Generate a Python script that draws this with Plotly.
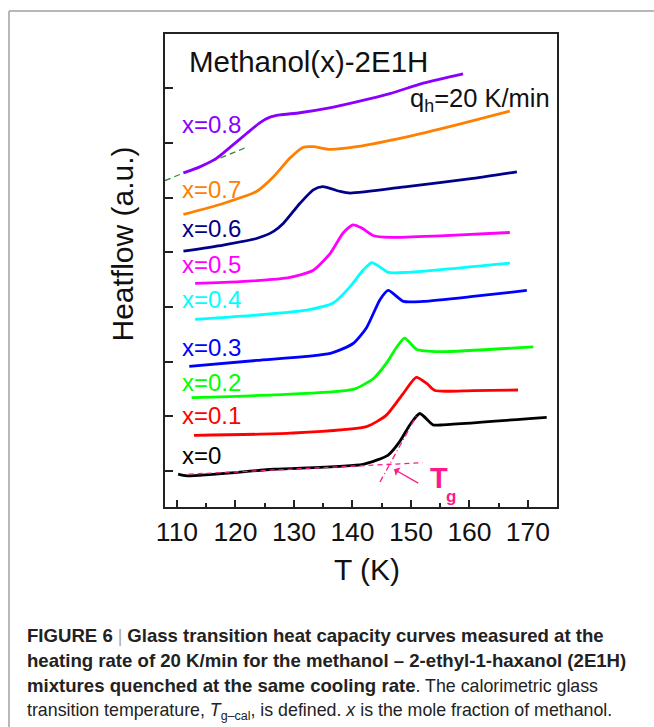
import plotly.graph_objects as go

# ---------------- data ----------------
T_08 = [111.1, 113.9, 116.8, 119.1, 121.9, 124.2, 125.9, 127.6, 131.0, 135.6, 140.7, 146.4, 152.1, 158.9]
H_08 = [5.45, 5.56, 5.72, 5.92, 6.17, 6.37, 6.47, 6.51, 6.55, 6.63, 6.75, 6.90, 7.09, 7.26]

T_07 = [111.1, 117.9, 123.6, 126.5, 129.3, 131.6, 133.3, 136.2, 140.7, 149.3, 157.8, 166.9]
H_07 = [4.69, 4.89, 5.11, 5.38, 5.72, 5.92, 5.93, 5.88, 5.93, 6.11, 6.33, 6.58]

T_06 = [111.1, 117.9, 123.6, 126.5, 128.2, 131.0, 133.3, 134.9, 137.9, 139.6, 149.3, 160.6, 168.1]
H_06 = [4.02, 4.13, 4.25, 4.38, 4.53, 4.89, 5.14, 5.20, 5.11, 5.08, 5.20, 5.35, 5.47]

T_05 = [113.1, 120.8, 129.3, 133.3, 136.2, 138.4, 140.1, 141.6, 143.6, 146.4, 155.0, 166.9]
H_05 = [3.43, 3.46, 3.54, 3.67, 3.98, 4.35, 4.50, 4.44, 4.30, 4.27, 4.30, 4.36]

T_04 = [113.1, 123.6, 132.2, 136.7, 139.6, 141.8, 143.3, 144.7, 146.1, 149.3, 166.9]
H_04 = [2.77, 2.85, 2.94, 3.07, 3.37, 3.67, 3.81, 3.73, 3.63, 3.63, 3.80]

T_03 = [112.1, 123.6, 136.2, 140.1, 142.4, 144.7, 146.1, 148.7, 152.1, 160.6, 169.8]
H_03 = [1.91, 2.02, 2.15, 2.33, 2.62, 3.13, 3.30, 3.10, 3.10, 3.19, 3.30]

T_02 = [112.5, 126.5, 140.1, 143.6, 145.8, 147.6, 148.9, 151.0, 155.0, 170.9]
H_02 = [1.34, 1.39, 1.49, 1.69, 1.97, 2.27, 2.43, 2.22, 2.18, 2.27]

T_01 = [112.9, 129.3, 142.4, 145.8, 148.7, 150.9, 152.7, 154.1, 160.6, 168.3]
H_01 = [0.65, 0.69, 0.81, 1.02, 1.42, 1.71, 1.60, 1.47, 1.47, 1.48]

T_00 = [110.2, 111.7, 126.5, 141.8, 146.1, 148.1, 149.8, 151.5, 153.8, 155.0, 173.2]
H_00 = [-0.06, -0.09, 0.03, 0.12, 0.29, 0.54, 0.84, 1.05, 0.84, 0.84, 0.98]

series_T = [T_08, T_07, T_06, T_05, T_04, T_03, T_02, T_01, T_00]
series_H = [H_08, H_07, H_06, H_05, H_04, H_03, H_02, H_01, H_00]
labels = ["x=0.8", "x=0.7", "x=0.6", "x=0.5", "x=0.4", "x=0.3", "x=0.2", "x=0.1", "x=0"]
label_H = [6.34, 5.14, 4.44, 3.77, 3.13, 2.25, 1.61, 1.02, 0.29]
label_T = 110.5

# tangent (x=0.8) and Tg construction (x=0)
tan08_T = [107.95, 121.9]
tan08_H = [5.31, 5.92]
base_T = [112.0, 152.0]
base_H = [-0.06, 0.15]
steep_T = [144.7, 151.0]
steep_H = [-0.20, 1.02]

x_ticks = [110, 120, 130, 140, 150, 160, 170]
y_ticks = [0, 1, 2, 3, 4, 5, 6, 7]

colors = ["#8a00ff", "#ff8000", "#00008b", "#ff00ff", "#00ffff", "#0000ff", "#00ff00", "#ff0000", "#000000"]
TG = "#ff1a8c"
FONT = "Liberation Sans, Arial, sans-serif"

W, H = 654, 727
L, R, TOP, BOT = 165, 557, 34, 507


def px(xp):
    return (xp - L) / (R - L)


def py(yp):
    return (BOT - yp) / (BOT - TOP)


fig = go.Figure()
fig.add_trace(go.Scatter(x=tan08_T, y=tan08_H, mode="lines",
                         line=dict(color="#2e8b2e", width=1.3, dash="6px,4px"), hoverinfo="skip"))
for t, h, c in zip(series_T, series_H, colors):
    fig.add_trace(go.Scatter(x=t, y=h, mode="lines",
                             line=dict(color=c, width=2.8, shape="spline", smoothing=0.6)))
fig.add_trace(go.Scatter(x=base_T, y=base_H, mode="lines",
                         line=dict(color=TG, width=1.3, dash="5px,4px")))
fig.add_trace(go.Scatter(x=steep_T, y=steep_H, mode="lines",
                         line=dict(color=TG, width=1.3, dash="6px,3px,1px,3px")))

ann = []
for lab, yv, c in zip(labels, label_H, colors):
    ann.append(dict(x=label_T, y=yv, xref="x", yref="y", text=lab, showarrow=False,
                    xanchor="left", yanchor="middle", font=dict(family=FONT, size=24, color=c)))
ann.append(dict(x=111.7, y=7.48, xref="x", yref="y", text="Methanol(x)-2E1H", showarrow=False,
                xanchor="left", yanchor="middle", font=dict(family=FONT, size=29.5, color="#111")))
ann.append(dict(x=149.5, y=6.78, xref="x", yref="y", text="q<sub>h</sub>=20 K/min", showarrow=False,
                xanchor="left", yanchor="middle", font=dict(family=FONT, size=25.5, color="#111")))
# Tg arrow and label
ann.append(dict(x=147.1, y=0.03, ax=151.5, ay=-0.24, xref="x", yref="y", axref="x", ayref="y",
                text="", showarrow=True, arrowhead=1, arrowsize=1.2, arrowwidth=1.3, arrowcolor=TG))
ann.append(dict(x=152.9, y=-0.13, xref="x", yref="y", text="<b>T</b>", showarrow=False,
                xanchor="left", yanchor="middle", font=dict(family=FONT, size=29, color=TG)))
ann.append(dict(x=155.6, y=-0.46, xref="x", yref="y", text="<b>g</b>", showarrow=False,
                xanchor="left", yanchor="middle", font=dict(family=FONT, size=17, color=TG)))
# axis titles
ann.append(dict(x=px(121.5), y=py(244), xref="paper", yref="paper", text="Heatflow (a.u.)",
                showarrow=False, textangle=-90, xanchor="center", yanchor="middle",
                font=dict(family=FONT, size=30, color="#111")))
ann.append(dict(x=px(367), y=py(569), xref="paper", yref="paper", text="T (K)",
                showarrow=False, xanchor="center", yanchor="middle",
                font=dict(family=FONT, size=30, color="#111")))
# caption
CAP = "Liberation Sans, Arial, sans-serif"
BS = "<span style='font-size:18.6px'><b>%s</b></span>"
cap_lines = [
    BS % "FIGURE 6" + " <span style='color:#aaa'>|</span> " + BS % "Glass transition heat capacity curves measured at the",
    BS % "heating rate of 20 K/min for the methanol – 2-ethyl-1-haxanol (2E1H)",
    BS % "mixtures quenched at the same cooling rate" + ". The calorimetric glass",
    "transition temperature, <i>T</i><sub>g–cal</sub>, is defined. <i>x</i> is the mole fraction of methanol.",
]
cap_y = [635, 660, 685, 711]
for txt, yy in zip(cap_lines, cap_y):
    ann.append(dict(x=px(25), y=py(yy), xref="paper", yref="paper", text=txt, showarrow=False,
                    xanchor="left", yanchor="middle", align="left",
                    font=dict(family=CAP, size=17.8, color="#222")))

shapes = [
    dict(type="line", xref="paper", yref="paper", x0=px(9), x1=px(654), y0=py(11), y1=py(11),
         line=dict(color="#a0a0a0", width=1.5)),
    dict(type="line", xref="paper", yref="paper", x0=px(9), x1=px(9), y0=py(11), y1=py(727),
         line=dict(color="#a0a0a0", width=1.5)),
]

fig.update_layout(
    width=W, height=H, margin=dict(l=L, r=W - R, t=TOP, b=H - BOT),
    paper_bgcolor="white", plot_bgcolor="white", showlegend=False,
    annotations=ann, shapes=shapes,
    xaxis=dict(range=[107.95, 174.96], tickvals=x_ticks, ticks="inside", ticklen=7, tickwidth=1.5,
               tickcolor="#222", showline=True, linecolor="#222", linewidth=2, mirror=True,
               showgrid=False, zeroline=False,
               minor=dict(dtick=5, tick0=105, ticks="inside", ticklen=4, tickcolor="#222", showgrid=False),
               tickfont=dict(family=FONT, size=26.5, color="#111")),
    yaxis=dict(range=[-0.66, 7.99], tickvals=y_ticks, ticks="inside", ticklen=8, tickwidth=1.5,
               tickcolor="#222", showticklabels=False, showline=True, linecolor="#222", linewidth=2,
               mirror=True, showgrid=False, zeroline=False),
)

fig.write_html("out.html", config={"displayModeBar": False},
               post_script="document.body.style.margin='0px';document.body.style.overflow='hidden';")
